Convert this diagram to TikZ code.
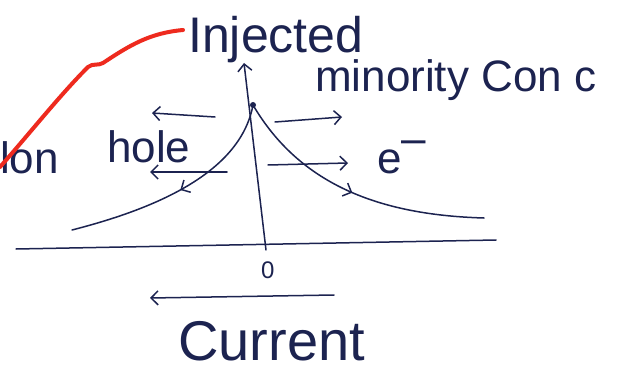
\documentclass[tikz,border=0pt]{standalone}
\usepackage{fontspec}
\setmainfont{Liberation Sans}
\usetikzlibrary{arrows.meta,decorations.markings}
\definecolor{ink}{HTML}{1C2350}
\definecolor{redink}{HTML}{EE2A1E}
\begin{document}
\begin{tikzpicture}[x=1pt,y=-1pt,
  inkline/.style={draw=ink,line width=1.5pt,line cap=round},
  tipped/.style={-{Straight Barb[length=7pt,width=14pt]}},
  midarrow/.style={postaction={decorate},decoration={markings,mark=at position #1 with {\arrow[line width=1.5pt,draw=ink]{Straight Barb[length=7pt,width=14pt]}}}},
  lbl/.style={text=ink,inner sep=0pt,anchor=base west}]
\useasboundingbox (0,0) rectangle (628,374);
\fill[white] (0,0) rectangle (628,374);
% coordinates
\coordinate (axL) at (16,249); \coordinate (axR) at (496,240);
\coordinate (vB) at (266,250); \coordinate (vT) at (244,63);
\coordinate (pk) at (253,105);
\coordinate (lEnd) at (72,230); \coordinate (rEnd) at (484,218);
\coordinate (h1s) at (215,117); \coordinate (h1e) at (152,113);
\coordinate (h2s) at (227,172); \coordinate (h2e) at (150,172);
\coordinate (e1s) at (275,122); \coordinate (e1e) at (342,117);
\coordinate (e2s) at (268,165); \coordinate (e2e) at (348,163);
\coordinate (cs) at (334,295); \coordinate (ce) at (150,298);
\coordinate (rs) at (0,167); \coordinate (re) at (183,30);
% labels
\node[lbl,font=\fontsize{50}{60}\selectfont] (inj) at (188,53) {Injected};
\node[lbl,font=\fontsize{44}{52}\selectfont] (mc) at (315,92) {minority Con c};
\node[lbl,font=\fontsize{44}{52}\selectfont] (lon) at (0,173) {lon};
\node[lbl,font=\fontsize{44}{52}\selectfont] (hole) at (107,162) {hole};
\node[lbl,font=\fontsize{44}{52}\selectfont] (el) at (377,173) {e\raisebox{0.45em}{–}};
\node[lbl,font=\fontsize{24}{28}\selectfont] (zero) at (261,278) {0};
\node[lbl,font=\fontsize{56}{64}\selectfont] (cur) at (178,360) {Current};
% axes
\draw[inkline] (axL) -- (axR);
\draw[inkline,tipped] (vB) -- (vT);
\fill[ink] (pk) circle (3);
% curves
\draw[inkline,midarrow=0.5] (pk) .. controls (240,175) and (150,210) .. (lEnd);
\draw[inkline,midarrow=0.5] (pk) .. controls (300,185) and (380,215) .. (rEnd);
% carrier arrows
\draw[inkline,tipped] (h1s) -- (h1e);
\draw[inkline,tipped] (h2s) -- (h2e);
\draw[inkline,tipped] (e1s) -- (e1e);
\draw[inkline,tipped] (e2s) -- (e2e);
\draw[inkline,tipped] (cs) -- (ce);
% red pointer
\draw[redink,line width=4pt,line cap=round,line join=round] (rs) .. controls (30,133) and (60,95) .. (88,67) .. controls (93,63) and (98,66) .. (103,63) .. controls (130,45) and (150,33) .. (re);
\end{tikzpicture}
\end{document}
